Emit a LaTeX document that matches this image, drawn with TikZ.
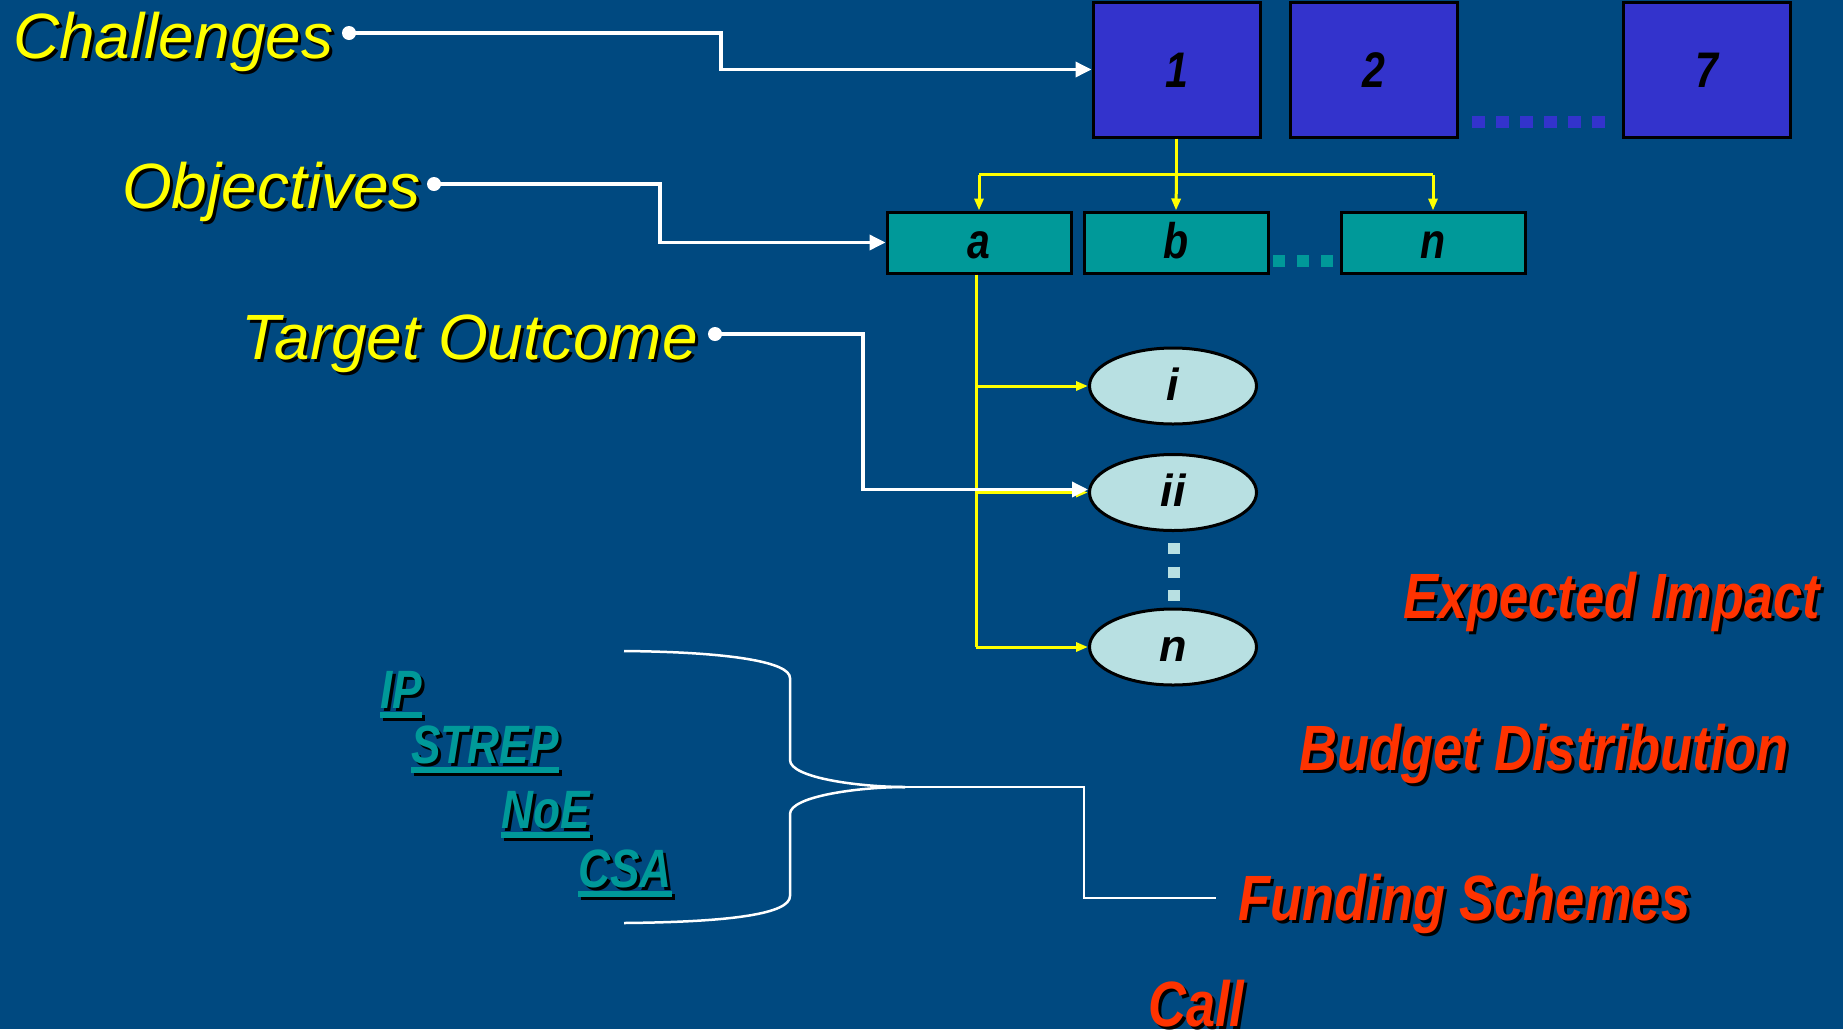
\documentclass[tikz,border=0pt]{standalone}
\usepackage{fontspec}
\setmainfont{Liberation Sans}
\newfontfamily\narrowfont[FakeStretch=0.82]{Liberation Sans}
\usetikzlibrary{arrows.meta,shapes.geometric,calc}
\definecolor{bgc}{RGB}{0,73,128}
\definecolor{boxblue}{RGB}{51,51,204}
\definecolor{tealc}{RGB}{0,153,153}
\definecolor{lightc}{RGB}{184,224,226}
\definecolor{yellowc}{RGB}{255,255,0}
\definecolor{redc}{RGB}{255,51,0}
\newcommand\shadowtext[4]{%
  \node[#3, text=black, shift={(3pt,-3pt)}] at #2 {#4};
  \node[#3] (#1) at #2 {#4};}
\tikzset{
  lbl/.style={inner sep=0pt, anchor=base west, text=yellowc,
    font=\fontsize{64}{70}\selectfont\itshape},
  redlbl/.style={inner sep=0pt, anchor=base west, text=redc,
    font=\narrowfont\fontsize{64}{70}\selectfont\bfseries\itshape},
  teallbl/.style={inner sep=0pt, anchor=base west, text=tealc,
    font=\narrowfont\fontsize{54}{60}\selectfont\bfseries\itshape},
  chalbox/.style={draw=black, line width=3pt, fill=boxblue, minimum width=167pt,
    minimum height=135pt, inner sep=0pt, text height=35pt, text depth=0pt,
    font=\narrowfont\fontsize{50}{52}\selectfont\bfseries\itshape},
  objbox/.style={draw=black, line width=3pt, fill=tealc, minimum width=184pt,
    minimum height=61pt, inner sep=0pt, text height=31pt, text depth=0pt,
    font=\narrowfont\fontsize{50}{52}\selectfont\bfseries\itshape},
  outell/.style={ellipse, draw=black, line width=3pt, fill=lightc, minimum width=167pt,
    minimum height=76pt, inner sep=0pt, text height=28pt, text depth=0pt,
    font=\fontsize{45}{48}\selectfont\bfseries\itshape},
  wdot/.style={circle, fill=white, minimum size=14pt, inner sep=0pt},
  wline/.style={white, line width=3.5pt},
  warrow/.style={wline, -{Triangle[length=16pt,width=15pt]}},
  yline/.style={yellowc, line width=3pt},
  yarrow/.style={yline, -{Triangle[length=12pt,width=9pt]}},
  brace/.style={white, line width=2.5pt},
  squares/.style={line width=12pt, dash pattern=on 12pt off 12pt},
}
\begin{document}
\begin{tikzpicture}[x=1pt, y=-1pt]
\fill[bgc] (0,0) rectangle (1843,1029);
\useasboundingbox (0,0) rectangle (1843,1029);

% challenges boxes
\node[chalbox] (b1) at (1176.5,69.5) {1};
\node[chalbox] (b2) at (1373.5,69.5) {2};
\node[chalbox] (b7) at (1706.5,69.5) {7};
\draw[boxblue, line width=12pt, dash pattern=on 13pt off 11pt] (1472,121.5) -- (1605,121.5);

% objective boxes
\node[objbox] (oa) at (979,242.5) {a};
\node[objbox] (ob) at (1176,242.5) {b};
\node[objbox] (on) at (1433,242.5) {n};
\draw[tealc, squares] (1273,261) -- (1333,261);

% outcome ellipses
\node[outell] (ei) at (1173,386) {i};
\node[outell] (eii) at (1173,492.5) {ii};
\node[outell] (en) at (1173,647) {n};
\draw[lightc, line width=12pt, dash pattern=on 11pt off 12.5pt] (1174,543) -- (1174,602);

% yellow tree
\draw[yline] (b1.south) -- ++(0,36) coordinate (yj);
\draw[yline] (yj -| oa.north) -- (yj -| on.north);
\draw[yarrow] (yj -| oa.north) -- (oa.north);
\draw[yarrow] (yj) -- (ob.north);
\draw[yarrow] (yj -| on.north) -- (on.north);
\coordinate (ya) at ([xshift=-3pt]oa.south);
\draw[yline] (ya) -- (ya |- en.west);
\draw[yarrow] (ya |- ei.west) -- (ei.west);
\draw[yarrow] (ya |- eii.west) -- (eii.west);
\draw[yarrow] (ya |- en.west) -- (en.west);

% left labels
\shadowtext{chal}{(13,58)}{lbl}{Challenges}
\shadowtext{obj}{(122,208)}{lbl}{Objectives}
\shadowtext{tgt}{(241,359)}{lbl}{Target Outcome}
\node[wdot] (chaldot) at (349,33) {};
\node[wdot] (objdot) at (434,184) {};
\node[wdot] (tgtdot) at (715,334) {};
\draw[warrow] (chaldot.center) -- (721,33) |- (b1.west);
\draw[warrow] (objdot.center) -- (660,184) |- (oa.west);
\draw[warrow] (tgtdot.center) -- (863,334) |- ([yshift=3pt]eii.west);

% red labels
\shadowtext{exp}{(1403,618)}{redlbl}{Expected Impact}
\shadowtext{bud}{(1299,770)}{redlbl}{Budget Distribution}
\shadowtext{fund}{(1238,920)}{redlbl}{Funding Schemes}
\shadowtext{call}{(1148,1026)}{redlbl}{Call}

% funding schemes
\foreach \nm/\tx/\px/\py in {ip/IP/380/708, strep/STREP/411/763, noe/NoE/501/828, csa/CSA/578/887}{
  \node[teallbl, text=black, shift={(3pt,-3pt)}] (\nm s) at (\px,\py) {\tx};
  \fill[black] ([yshift=-4pt]\nm s.base west) rectangle ([yshift=-10pt]\nm s.base east);
  \node[teallbl] (\nm) at (\px,\py) {\tx};
  \fill[tealc] ([yshift=-4pt]\nm.base west) rectangle ([yshift=-10pt]\nm.base east);
}

% brace
\coordinate (tip) at (905,787);
\draw[brace] (624,651) .. controls (730,652) and (790,662) .. (790,678)
  -- (790,760) .. controls (790,778) and (860,787) .. (tip);
\draw[brace] (tip) .. controls (860,787) and (790,796) .. (790,814)
  -- (790,896) .. controls (790,914) and (730,922) .. (624,923);
\coordinate (fsend) at (1216,898);
\draw[brace] (tip) -- (1084,787) |- (fsend);
\end{tikzpicture}
\end{document}
